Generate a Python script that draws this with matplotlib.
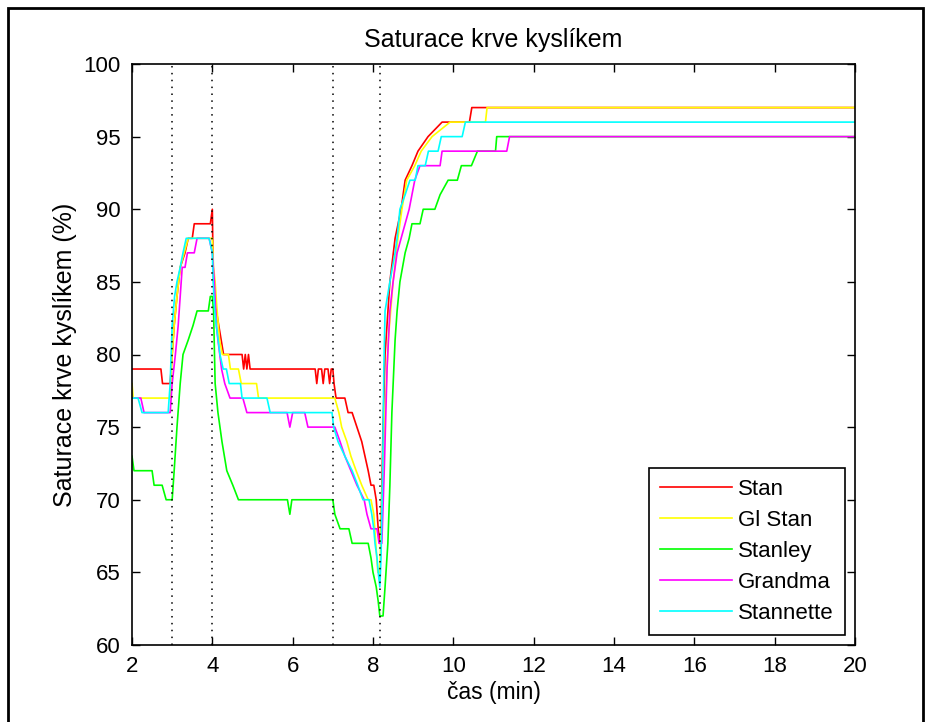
import matplotlib
matplotlib.use("Agg")
import matplotlib.pyplot as plt
from matplotlib.patches import Rectangle

plt.rcParams['font.family'] = ['Liberation Sans', 'DejaVu Sans']

# ===== DATA: (time in min, saturation %) =====
stan = [(2.0, 79), (2.72, 79), (2.76, 78), (2.95, 78), (3.0, 80), (3.05, 82), (3.12, 84),
        (3.2, 86), (3.32, 87), (3.4, 88), (3.5, 88), (3.55, 89), (3.9, 89), (3.95, 89),
        (4.0, 90), (4.02, 86), (4.05, 84), (4.1, 83), (4.16, 82), (4.22, 81), (4.28, 80),
        (4.36, 80), (4.74, 80), (4.78, 79), (4.82, 80), (4.86, 79), (4.9, 80), (4.94, 79),
        (6.56, 79), (6.6, 78), (6.64, 79), (6.72, 79), (6.76, 78), (6.8, 79), (6.88, 79),
        (6.92, 78), (6.96, 79), (7.0, 79), (7.03, 78), (7.08, 77), (7.3, 77), (7.38, 76),
        (7.48, 76), (7.6, 75), (7.72, 74), (7.8, 73), (7.88, 72), (7.95, 71), (8.02, 71),
        (8.08, 70), (8.13, 68), (8.17, 67), (8.2, 68), (8.25, 75), (8.3, 80), (8.42, 85),
        (8.55, 88), (8.7, 90), (8.75, 91), (8.8, 92), (8.97, 93), (9.12, 94), (9.37, 95),
        (9.72, 96), (10.4, 96), (10.46, 97), (20.0, 97)]

gi_stan = [(2.0, 78), (2.03, 77), (2.95, 77), (3.0, 80), (3.05, 82), (3.12, 84), (3.2, 86),
           (3.3, 87), (3.4, 88), (3.9, 88), (4.0, 88), (4.03, 86), (4.07, 85), (4.12, 83),
           (4.18, 81), (4.25, 80), (4.4, 80), (4.45, 79), (4.65, 79), (4.72, 78), (5.1, 78),
           (5.15, 77), (7.05, 77), (7.15, 76), (7.22, 75), (7.35, 74), (7.45, 73), (7.58, 72),
           (7.72, 71), (7.88, 70), (7.95, 70), (8.02, 69), (8.07, 67), (8.12, 65), (8.17, 65),
           (8.22, 70), (8.3, 76), (8.38, 81), (8.5, 85), (8.62, 88), (8.72, 90), (8.84, 92),
           (9.04, 93), (9.2, 94), (9.47, 95), (9.92, 96), (10.8, 96), (10.84, 97), (20.0, 97)]

stanley = [(2.0, 73), (2.05, 72), (2.5, 72), (2.55, 71), (2.75, 71), (2.85, 70), (3.0, 70),
           (3.05, 72), (3.12, 75), (3.2, 78), (3.27, 80), (3.4, 81), (3.52, 82), (3.62, 83),
           (3.9, 83), (3.95, 84), (4.0, 84), (4.03, 83), (4.07, 78), (4.14, 76), (4.24, 74),
           (4.36, 72), (4.51, 71), (4.65, 70), (5.87, 70), (5.93, 69), (5.98, 70), (7.0, 70),
           (7.05, 69), (7.18, 68), (7.4, 68), (7.48, 67), (7.88, 67), (7.95, 66), (8.0, 65),
           (8.08, 64), (8.13, 63), (8.17, 62), (8.25, 62), (8.3, 64), (8.37, 67), (8.42, 71),
           (8.47, 76), (8.55, 81), (8.6, 83), (8.67, 85), (8.8, 87), (8.9, 88), (8.97, 89),
           (9.17, 89), (9.25, 90), (9.54, 90), (9.67, 91), (9.87, 92), (10.1, 92), (10.2, 93),
           (10.45, 93), (10.6, 94), (11.05, 94), (11.08, 95), (20.0, 95)]

grandma = [(2.0, 77), (2.22, 77), (2.3, 76), (2.95, 76), (3.0, 78), (3.08, 80), (3.15, 82),
           (3.2, 84), (3.25, 86), (3.32, 86), (3.38, 87), (3.55, 87), (3.62, 88), (3.92, 88),
           (4.0, 87), (4.05, 85), (4.1, 82), (4.14, 81), (4.23, 79), (4.31, 78), (4.44, 77),
           (4.76, 77), (4.86, 76), (5.86, 76), (5.93, 75), (6.0, 76), (6.3, 76), (6.38, 75),
           (7.05, 75), (7.18, 74), (7.3, 73), (7.45, 72), (7.6, 71), (7.78, 70), (7.85, 69),
           (7.95, 68), (8.1, 68), (8.15, 67), (8.22, 67), (8.28, 72), (8.35, 79), (8.42, 83),
           (8.5, 85), (8.6, 87), (8.7, 88), (8.8, 89), (8.9, 90), (8.97, 91), (9.04, 92),
           (9.17, 93), (9.67, 93), (9.72, 94), (11.33, 94), (11.4, 95), (20.0, 95)]

stannette = [(2.0, 77), (2.15, 77), (2.25, 76), (2.9, 76), (2.95, 78), (3.0, 82), (3.06, 84),
             (3.12, 85), (3.2, 86), (3.27, 87), (3.35, 88), (3.92, 88), (4.0, 87), (4.02, 85),
             (4.06, 83), (4.1, 82), (4.19, 80), (4.27, 79), (4.35, 79), (4.42, 78), (4.7, 78),
             (4.74, 77), (5.36, 77), (5.44, 76), (6.98, 76), (7.02, 75), (7.13, 74), (7.3, 73),
             (7.48, 72), (7.62, 71), (7.75, 70), (7.9, 70), (7.97, 69), (8.02, 68), (8.05, 67),
             (8.1, 66), (8.13, 65), (8.17, 64), (8.2, 66), (8.24, 72), (8.27, 79), (8.3, 83),
             (8.42, 85), (8.55, 87), (8.6, 88), (8.67, 90), (8.8, 91), (8.92, 92), (9.05, 92),
             (9.12, 93), (9.3, 93), (9.38, 94), (9.62, 94), (9.7, 95), (10.22, 95), (10.3, 96),
             (20.0, 96)]

series = [("Stan", stan, (1, 0, 0)),
          ("Gl Stan", gi_stan, (1, 1, 0)),
          ("Stanley", stanley, (0, 1, 0)),
          ("Grandma", grandma, (1, 0, 1)),
          ("Stannette", stannette, (0, 1, 1))]

events = [3, 4, 7, 8.17]  # phase boundaries (min)

# ===== PLOT =====
fig = plt.figure(figsize=(9.31, 7.22), dpi=100)
ax = fig.add_axes([132 / 931, 77 / 722, 723 / 931, 581 / 722])

for name, pts, col in series:
    t, v = zip(*pts)
    ax.plot(t, v, color=col, lw=1.2, label=name)

for x in events:
    ax.axvline(x, color="black", ls=(0, (1, 3.5)), lw=1.1)

ax.set_xlim(2, 20)
ax.set_ylim(60, 100)
ax.set_xticks(range(2, 21, 2))
ax.set_yticks(range(60, 101, 5))
ax.tick_params(direction="in", length=6, width=1, top=True, right=True,
               labelsize=16, pad=8)
for s in ax.spines.values():
    s.set_linewidth(1.2)

ax.set_title("Saturace krve kyslíkem", fontsize=18, pad=12)
ax.set_xlabel("čas (min)", fontsize=16.5, labelpad=3)
ax.set_ylabel("Saturace krve kyslíkem (%)", fontsize=18, labelpad=5)

leg = ax.legend(loc="lower right", fontsize=16, fancybox=False, framealpha=1,
                edgecolor="black", handlelength=3.2, handletextpad=0.3,
                borderpad=0.5, borderaxespad=0.45, labelspacing=0.45)
leg.get_frame().set_linewidth(1.2)

# outer window frame
fig.patches.append(Rectangle((8 / 931, -0.1), 915 / 931, 1.1 - 8 / 722,
                             transform=fig.transFigure, fill=False,
                             edgecolor="black", lw=2))

fig.savefig("out.png", dpi=100)
